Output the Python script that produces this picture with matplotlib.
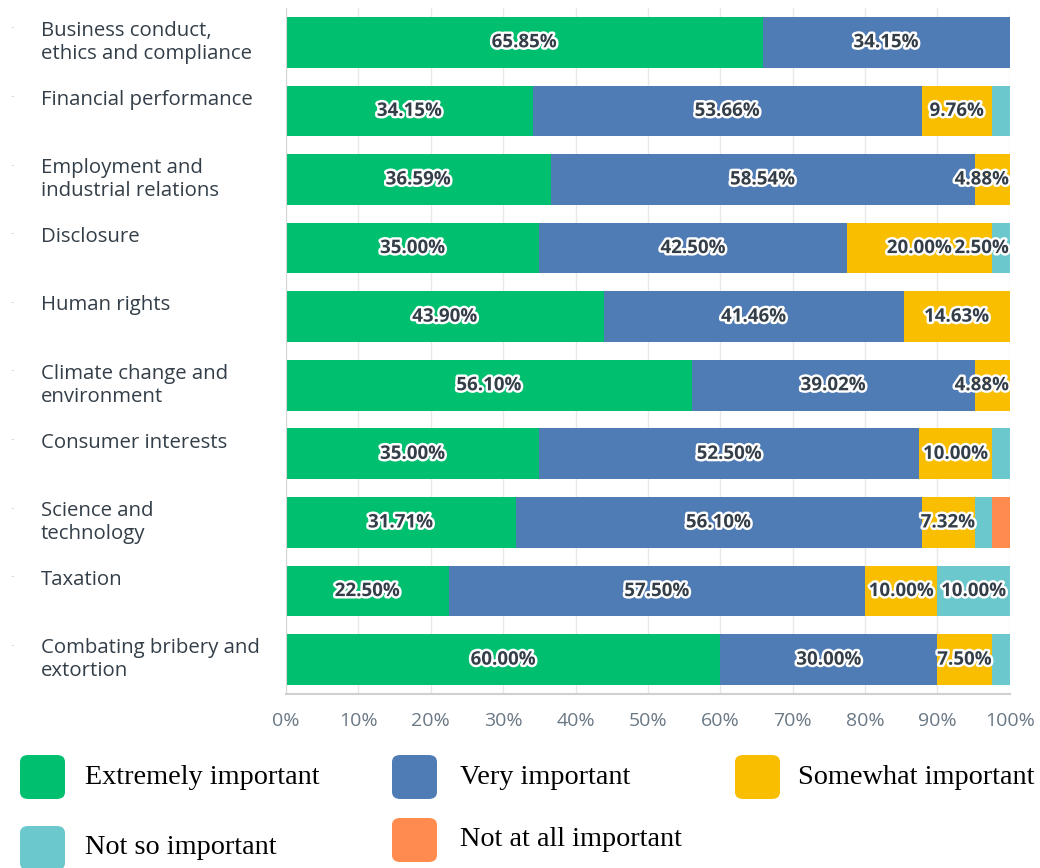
import matplotlib
matplotlib.use("Agg")
import matplotlib.pyplot as plt
import matplotlib.patheffects as pe
from matplotlib.patches import FancyBboxPatch
from matplotlib.transforms import blended_transform_factory
import numpy as np

categories = [
    "Business conduct,\nethics and compliance",
    "Financial performance",
    "Employment and\nindustrial relations",
    "Disclosure",
    "Human rights",
    "Climate change and\nenvironment",
    "Consumer interests",
    "Science and\ntechnology",
    "Taxation",
    "Combating bribery and\nextortion",
]
series_names = ["Extremely important", "Very important", "Somewhat important",
                "Not so important", "Not at all important"]
extremely = [65.85, 34.15, 36.59, 35.00, 43.90, 56.10, 35.00, 31.71, 22.50, 60.00]
very = [34.15, 53.66, 58.54, 42.50, 41.46, 39.02, 52.50, 56.10, 57.50, 30.00]
somewhat = [0, 9.76, 4.88, 20.00, 14.63, 4.88, 10.00, 7.32, 10.00, 7.50]
not_so = [0, 2.44, 0, 2.50, 0, 0, 2.50, 2.44, 10.00, 2.50]
not_at_all = [0, 0, 0, 0, 0, 0, 0, 2.44, 0, 0]
colors = ["#00bf6f", "#507cb6", "#f9be00", "#6bc8cd", "#ff8b4f"]

# small segments are left unlabelled, except this one
extra_labels = {(3, 3)}

data = np.array([extremely, very, somewhat, not_so, not_at_all])

fig = plt.figure(figsize=(10.4, 8.68), dpi=100)
ax = fig.add_axes([0.275, 0.2005, 0.696, 0.7903])

y = np.arange(len(categories))
left = np.zeros(len(categories))
for s, vals in enumerate(data):
    ax.barh(y, vals, left=left, height=0.74, color=colors[s], zorder=2)
    for i, v in enumerate(vals):
        if v >= 4.5 or (i, s) in extra_labels:
            end = left[i] + v
            if end >= 99.9 and v < 8:
                x, ha = 99.9, "right"
            else:
                x, ha = left[i] + v / 2, "center"
            ax.text(x, i, f"{v:.2f}%", ha=ha, va="center", fontsize=13.5,
                    family="Open Sans", fontweight="bold", color="#333e48",
                    zorder=4,
                    path_effects=[pe.withStroke(linewidth=3.5, foreground="white")])
    left += vals

ax.set_xlim(0, 100)
ax.set_ylim(len(categories) - 0.5, -0.5)
ax.set_xticks(np.arange(0, 101, 10))
ax.set_xticklabels([f"{t}%" for t in range(0, 101, 10)], family="Open Sans",
                   fontsize=14, color="#6a7885")
ax.tick_params(axis="x", length=0, pad=13)
ax.set_yticks([])
ax.grid(axis="x", color="#e8e8e8", linewidth=1, zorder=0)
for side in ["top", "right"]:
    ax.spines[side].set_visible(False)
ax.spines["left"].set_color("#d6d6d6")
ax.spines["bottom"].set_color("#d0d0d0")
ax.spines["bottom"].set_linewidth(1.5)

# category names on the left, top-aligned with each bar
trans = blended_transform_factory(fig.transFigure, ax.transData)
for i, name in enumerate(categories):
    ax.text(41 / 1040, i - 0.31, name, transform=trans, ha="left", va="top",
            family="Open Sans", fontsize=14.7, color="#333e48", linespacing=1.2)
    ax.text(13 / 1040, i - 0.2, "·", transform=trans, ha="center", va="center",
            fontsize=8, color="#9aa3aa")

# legend with rounded swatches
legend_pos = [(20, 755, 85), (392, 755, 460), (735, 755, 798),
              (20, 826, 85), (392, 818, 460)]
for (sx, sy, tx), name, c in zip(legend_pos, series_names, colors):
    w, h = 45, 44
    box = FancyBboxPatch((sx / 1040, 1 - (sy + h) / 868), w / 1040, h / 868,
                         boxstyle="round,pad=0,rounding_size=0.008",
                         transform=fig.transFigure, facecolor=c, edgecolor="none")
    fig.patches.append(box)
    fig.text(tx / 1040, 1 - (sy + h / 2) / 868, name, ha="left", va="center",
             family="Liberation Serif", fontsize=20.3, color="black")

fig.savefig("out.png", dpi=100)
